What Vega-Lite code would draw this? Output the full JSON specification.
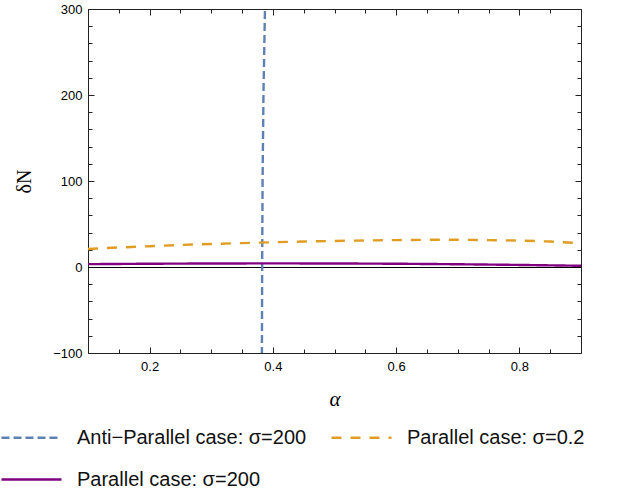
{
  "$schema": "https://vega.github.io/schema/vega-lite/v6.json",
  "width": 493,
  "height": 344,
  "autosize": {"type": "none"},
  "padding": {"left": 88, "top": 9, "right": 38, "bottom": 141},
  "config": {"view": {"stroke": null}, "font": "Liberation Sans", "background": "white"},
  "datasets": {
    "curves": [
      {"series": "Anti−Parallel case: σ=200", "alpha": 0.3815, "dN": -200},
      {"series": "Anti−Parallel case: σ=200", "alpha": 0.3822, "dN": -100},
      {"series": "Anti−Parallel case: σ=200", "alpha": 0.3826, "dN": 0},
      {"series": "Anti−Parallel case: σ=200", "alpha": 0.3833, "dN": 100},
      {"series": "Anti−Parallel case: σ=200", "alpha": 0.3847, "dN": 200},
      {"series": "Anti−Parallel case: σ=200", "alpha": 0.3872, "dN": 300},
      {"series": "Anti−Parallel case: σ=200", "alpha": 0.3888, "dN": 360},
      {"series": "Parallel case: σ=0.2", "alpha": 0.1, "dN": 21},
      {"series": "Parallel case: σ=0.2", "alpha": 0.15, "dN": 22.7},
      {"series": "Parallel case: σ=0.2", "alpha": 0.2, "dN": 24.2},
      {"series": "Parallel case: σ=0.2", "alpha": 0.25, "dN": 25.6},
      {"series": "Parallel case: σ=0.2", "alpha": 0.3, "dN": 26.8},
      {"series": "Parallel case: σ=0.2", "alpha": 0.35, "dN": 27.8},
      {"series": "Parallel case: σ=0.2", "alpha": 0.4, "dN": 28.8},
      {"series": "Parallel case: σ=0.2", "alpha": 0.45, "dN": 29.6},
      {"series": "Parallel case: σ=0.2", "alpha": 0.5, "dN": 30.3},
      {"series": "Parallel case: σ=0.2", "alpha": 0.55, "dN": 30.9},
      {"series": "Parallel case: σ=0.2", "alpha": 0.6, "dN": 31.3},
      {"series": "Parallel case: σ=0.2", "alpha": 0.65, "dN": 31.6},
      {"series": "Parallel case: σ=0.2", "alpha": 0.7, "dN": 31.6},
      {"series": "Parallel case: σ=0.2", "alpha": 0.75, "dN": 31.3},
      {"series": "Parallel case: σ=0.2", "alpha": 0.8, "dN": 30.7},
      {"series": "Parallel case: σ=0.2", "alpha": 0.85, "dN": 29.6},
      {"series": "Parallel case: σ=0.2", "alpha": 0.9, "dN": 27.8},
      {"series": "Parallel case: σ=200", "alpha": 0.1, "dN": 3.3},
      {"series": "Parallel case: σ=200", "alpha": 0.2, "dN": 3.8},
      {"series": "Parallel case: σ=200", "alpha": 0.3, "dN": 4.1},
      {"series": "Parallel case: σ=200", "alpha": 0.4, "dN": 4.2},
      {"series": "Parallel case: σ=200", "alpha": 0.5, "dN": 4.1},
      {"series": "Parallel case: σ=200", "alpha": 0.6, "dN": 3.8},
      {"series": "Parallel case: σ=200", "alpha": 0.7, "dN": 3.2},
      {"series": "Parallel case: σ=200", "alpha": 0.8, "dN": 2.4},
      {"series": "Parallel case: σ=200", "alpha": 0.9, "dN": 1.4}
    ],
    "zero": [{"x": 0.1, "y": 0}, {"x": 0.9, "y": 0}]
  },
  "layer": [
    {
      "data": {"name": "zero"},
      "mark": {"type": "line", "color": "black", "strokeWidth": 1, "yOffset": 0.5},
      "encoding": {
        "x": {
          "field": "x", "type": "quantitative",
          "scale": {"domain": [0.1, 0.9], "nice": false, "zero": false},
          "axis": {
            "orient": "top", "title": null, "labels": false, "grid": false,
            "values": [0.1, 0.15, 0.2, 0.25, 0.3, 0.35, 0.4, 0.45, 0.5, 0.55, 0.6, 0.65, 0.7, 0.75, 0.8, 0.85, 0.9],
            "tickSize": {"condition": {"test": "round(datum.value*100)%20==0", "value": -6}, "value": -4},
            "domainColor": "#222", "tickColor": "#222", "tickWidth": 1
          }
        },
        "y": {
          "field": "y", "type": "quantitative",
          "scale": {"domain": [-100, 300], "nice": false, "zero": false},
          "axis": {
            "orient": "right", "title": null, "labels": false, "grid": false,
            "values": [-100, -80, -60, -40, -20, 0, 20, 40, 60, 80, 100, 120, 140, 160, 180, 200, 220, 240, 260, 280, 300],
            "tickSize": {"condition": {"test": "datum.value%100==0", "value": -6}, "value": -4},
            "domainColor": "#222", "tickColor": "#222", "tickWidth": 1
          }
        }
      }
    },
    {
      "data": {"name": "curves"},
      "mark": {"type": "line", "clip": true, "strokeWidth": 2.4},
      "encoding": {
        "x": {
          "field": "alpha", "type": "quantitative",
          "scale": {"domain": [0.1, 0.9], "nice": false, "zero": false},
          "axis": {
            "orient": "bottom", "grid": false,
            "values": [0.1, 0.15, 0.2, 0.25, 0.3, 0.35, 0.4, 0.45, 0.5, 0.55, 0.6, 0.65, 0.7, 0.75, 0.8, 0.85, 0.9],
            "tickSize": {"condition": {"test": "round(datum.value*100)%20==0", "value": -6}, "value": -4},
            "format": ".1f",
            "labelExpr": "round(datum.value*100)%20==0 ? datum.label : ''",
            "labelOverlap": false, "labelFlush": false,
            "labelPadding": 13, "labelFontSize": 13, "labelColor": "black", "labelFont": "Liberation Sans",
            "domainColor": "#222", "tickColor": "#222", "tickWidth": 1,
            "title": "α", "titleFont": "Liberation Serif", "titleFontStyle": "italic",
            "titleFontSize": 21, "titleFontWeight": "normal", "titleColor": "black", "titlePadding": 13
          }
        },
        "y": {
          "field": "dN", "type": "quantitative",
          "scale": {"domain": [-100, 300], "nice": false, "zero": false},
          "axis": {
            "orient": "left", "grid": false,
            "values": [-100, -80, -60, -40, -20, 0, 20, 40, 60, 80, 100, 120, 140, 160, 180, 200, 220, 240, 260, 280, 300],
            "tickSize": {"condition": {"test": "datum.value%100==0", "value": -6}, "value": -4},
            "labelExpr": "datum.value%100==0 ? datum.label : ''",
            "labelOverlap": false, "labelFlush": false,
            "labelPadding": 12, "labelFontSize": 13, "labelColor": "black", "labelFont": "Liberation Sans",
            "domainColor": "#222", "tickColor": "#222", "tickWidth": 1,
            "title": "δN", "titleFont": "Liberation Serif",
            "titleFontSize": 20, "titleFontWeight": "normal", "titleColor": "black", "titlePadding": 18
          }
        },
        "color": {
          "field": "series", "type": "nominal",
          "scale": {
            "domain": ["Anti−Parallel case: σ=200", "Parallel case: σ=0.2", "Parallel case: σ=200"],
            "range": ["#5E81B5", "#E19C24", "#800080"]
          },
          "legend": {
            "orient": "none", "legendX": -88, "legendY": 397, "direction": "horizontal",
            "columns": 2, "columnPadding": 19, "rowPadding": -23,
            "symbolType": "stroke", "symbolSize": 3600, "symbolStrokeWidth": 2.5,
            "labelFontSize": 20, "labelFont": "Liberation Sans", "labelColor": "#111",
            "labelOffset": 14, "labelLimit": 400, "title": null
          }
        },
        "strokeDash": {
          "field": "series", "type": "nominal",
          "scale": {
            "domain": ["Anti−Parallel case: σ=200", "Parallel case: σ=0.2", "Parallel case: σ=200"],
            "range": [[8, 4], [10, 9], [1, 0]]
          }
        }
      }
    }
  ],
  "resolve": {"axis": {"x": "independent", "y": "independent"}}
}
